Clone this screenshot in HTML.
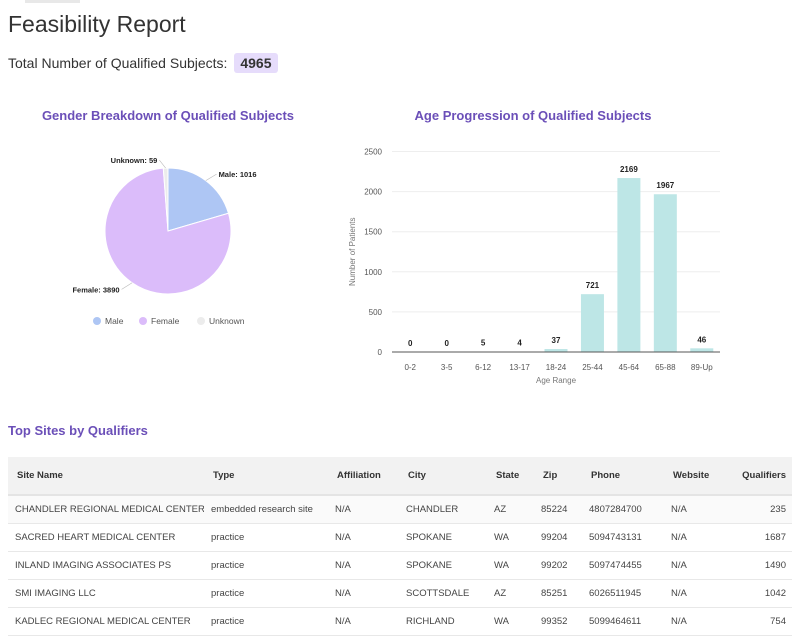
<!DOCTYPE html>
<html><head><meta charset="utf-8">
<style>
body{margin:0;width:800px;height:636px;background:#fff;font-family:"Liberation Sans",sans-serif;color:#333;position:relative;overflow:hidden}
.abs{position:absolute}
#title{left:8px;top:11px;font-size:23px;color:#333}
#total{left:8px;top:53px;font-size:14px;color:#333}
#badge{display:inline-block;background:#e6dcfb;border-radius:3px;padding:2px 6px;font-weight:bold;margin-left:3px}
#sites{left:8px;top:423px;font-size:13px;font-weight:bold;color:#6b4fb8}
table{position:absolute;left:8px;top:457px;width:784px;border-collapse:collapse;font-size:9.5px;color:#444;table-layout:fixed}
th{background:#f2f2f2;height:37px;text-align:left;font-weight:bold;color:#333;padding:0 0 0 9px;border-bottom:2px solid #e4e4e4}
td{height:27px;padding:0 0 0 7px;border-bottom:1px solid #e8e8e8;white-space:nowrap;overflow:hidden}
tr.r1 td{background:#fafafa}
</style></head><body>
<div class="abs" style="left:25px;top:0;width:55px;height:3px;background:#e8e8e8"></div>
<div id="title" class="abs">Feasibility Report</div>
<div id="total" class="abs">Total Number of Qualified Subjects: <span id="badge">4965</span></div>

<svg class="abs" style="left:0;top:100px" width="340" height="240">
<text x="168" y="20" text-anchor="middle" font-size="13" font-weight="bold" fill="#6b4fb8" font-family="Liberation Sans">Gender Breakdown of Qualified Subjects</text>
<g id="pie"></g>
<g id="pielegend"></g>
</svg>

<svg id="bar" class="abs" style="left:340px;top:100px" width="420" height="300">
<text x="193" y="20" text-anchor="middle" font-size="13" font-weight="bold" fill="#6b4fb8" font-family="Liberation Sans">Age Progression of Qualified Subjects</text>
</svg>

<div id="sites" class="abs">Top Sites by Qualifiers</div>
<table>
<colgroup><col style="width:196px"><col style="width:124px"><col style="width:71px"><col style="width:88px"><col style="width:47px"><col style="width:48px"><col style="width:82px"><col style="width:60px"><col></colgroup>
<tr><th>Site Name</th><th>Type</th><th>Affiliation</th><th>City</th><th>State</th><th>Zip</th><th>Phone</th><th>Website</th><th style="text-align:right;padding-right:6px">Qualifiers</th></tr>
<tr class="r1"><td>CHANDLER REGIONAL MEDICAL CENTER</td><td>embedded research site</td><td>N/A</td><td>CHANDLER</td><td>AZ</td><td>85224</td><td>4807284700</td><td>N/A</td><td style="text-align:right;padding-right:6px">235</td></tr>
<tr><td>SACRED HEART MEDICAL CENTER</td><td>practice</td><td>N/A</td><td>SPOKANE</td><td>WA</td><td>99204</td><td>5094743131</td><td>N/A</td><td style="text-align:right;padding-right:6px">1687</td></tr>
<tr><td>INLAND IMAGING ASSOCIATES PS</td><td>practice</td><td>N/A</td><td>SPOKANE</td><td>WA</td><td>99202</td><td>5097474455</td><td>N/A</td><td style="text-align:right;padding-right:6px">1490</td></tr>
<tr><td>SMI IMAGING LLC</td><td>practice</td><td>N/A</td><td>SCOTTSDALE</td><td>AZ</td><td>85251</td><td>6026511945</td><td>N/A</td><td style="text-align:right;padding-right:6px">1042</td></tr>
<tr><td>KADLEC REGIONAL MEDICAL CENTER</td><td>practice</td><td>N/A</td><td>RICHLAND</td><td>WA</td><td>99352</td><td>5099464611</td><td>N/A</td><td style="text-align:right;padding-right:6px">754</td></tr>
</table>

<script>
const pieLabels=["Male","Female","Unknown"];
const pieValues=[1016,3890,59];
const pieColors=["#aec6f4","#dbbcfa","#ececec"];
const ageCats=["0-2","3-5","6-12","13-17","18-24","25-44","45-64","65-88","89-Up"];
const ageValues=[0,0,5,4,37,721,2169,1967,46];
const yTicks=[0,500,1000,1500,2000,2500];
const NS="http://www.w3.org/2000/svg";
function mk(p,t,a){const e=document.createElementNS(NS,t);for(const k in a)e.setAttribute(k,a[k]);p.appendChild(e);return e;}

// pie
const pg=document.getElementById('pie');
const cx=168,cy=131,r=63;
const tot=pieValues.reduce((a,b)=>a+b,0);
let ang=0;
pieValues.forEach((v,i)=>{
  const a0=ang,a1=ang+v/tot*2*Math.PI;ang=a1;
  const x0=cx+r*Math.sin(a0),y0=cy-r*Math.cos(a0),x1=cx+r*Math.sin(a1),y1=cy-r*Math.cos(a1);
  const p=mk(pg,'path',{d:`M${cx},${cy}L${x0},${y0}A${r},${r} 0 ${a1-a0>Math.PI?1:0} 1 ${x1},${y1}Z`,fill:pieColors[i],stroke:'#fff','stroke-width':1});
  
  
  const m=(a0+a1)/2;
  const lx=cx+(r+8)*Math.sin(m),ly=cy-(r+8)*Math.cos(m);
  const right=Math.sin(m)>=0;
  const t=mk(pg,'text',{x:lx+(right?8:-8),y:ly+3,'font-size':7.5,'font-weight':'bold','text-anchor':right?'start':'end',fill:'#222'});
  t.textContent=pieLabels[i]+': '+v;
  
  
  mk(pg,'line',{x1:cx+r*Math.sin(m),y1:cy-r*Math.cos(m),x2:lx+(right?6:-6),y2:ly,stroke:'#bbb','stroke-width':0.6});
});
const lg=document.getElementById('pielegend');
const lx0=[97,143,201];
pieLabels.forEach((l,i)=>{
  const c=mk(lg,'circle',{cx:lx0[i],cy:221,r:4,fill:pieColors[i]});
  
  
  const t=mk(lg,'text',{x:lx0[i]+8,y:224,'font-size':8.5,fill:'#555'});
  t.textContent=l;
  
  
});

// bar
const svg=document.getElementById('bar');
const X0=52,X1=380,Y0=252,Ymax=2500,H=200.5;
const y=v=>Y0-v/Ymax*H;
const bw=(X1-X0)/ageCats.length;
const xc=i=>X0+bw*(i+0.5);
yTicks.forEach(t=>{
  if(t>0){const l=mk(svg,'line',{x1:X0,x2:X1,y1:y(t),y2:y(t),stroke:'#eee','stroke-width':1});
  }
  const tx=mk(svg,'text',{x:X0-10,y:y(t)+3,'font-size':8,'text-anchor':'end',fill:'#555'});
  tx.textContent=t;
  
  
});
ageValues.forEach((v,i)=>{
  const b=mk(svg,'rect',{x:xc(i)-11.5,y:y(v),width:23,height:Math.max(0,Y0-y(v)),fill:'#bde6e6'});
  
  
  const t=mk(svg,'text',{x:xc(i),y:y(v)-6,'font-size':8,'font-weight':'bold','text-anchor':'middle',fill:'#222'});
  t.textContent=v;
  
  
  const c=mk(svg,'text',{x:xc(i),y:Y0+18,'font-size':8,'text-anchor':'middle',fill:'#555'});
  c.textContent=ageCats[i];
  
  
});
const ax=mk(svg,'line',{x1:X0,x2:X1,y1:Y0,y2:Y0,stroke:'#555','stroke-width':1});


const xt=mk(svg,'text',{x:(X0+X1)/2,y:Y0+31,'font-size':8,'text-anchor':'middle',fill:'#777'});
xt.textContent='Age Range';


const yt=mk(svg,'text',{x:0,y:0,'font-size':8,'text-anchor':'middle',fill:'#777',transform:`translate(15,${(Y0+y(2500))/2}) rotate(-90)`});
yt.textContent='Number of Patients';


</script>
</body></html>
